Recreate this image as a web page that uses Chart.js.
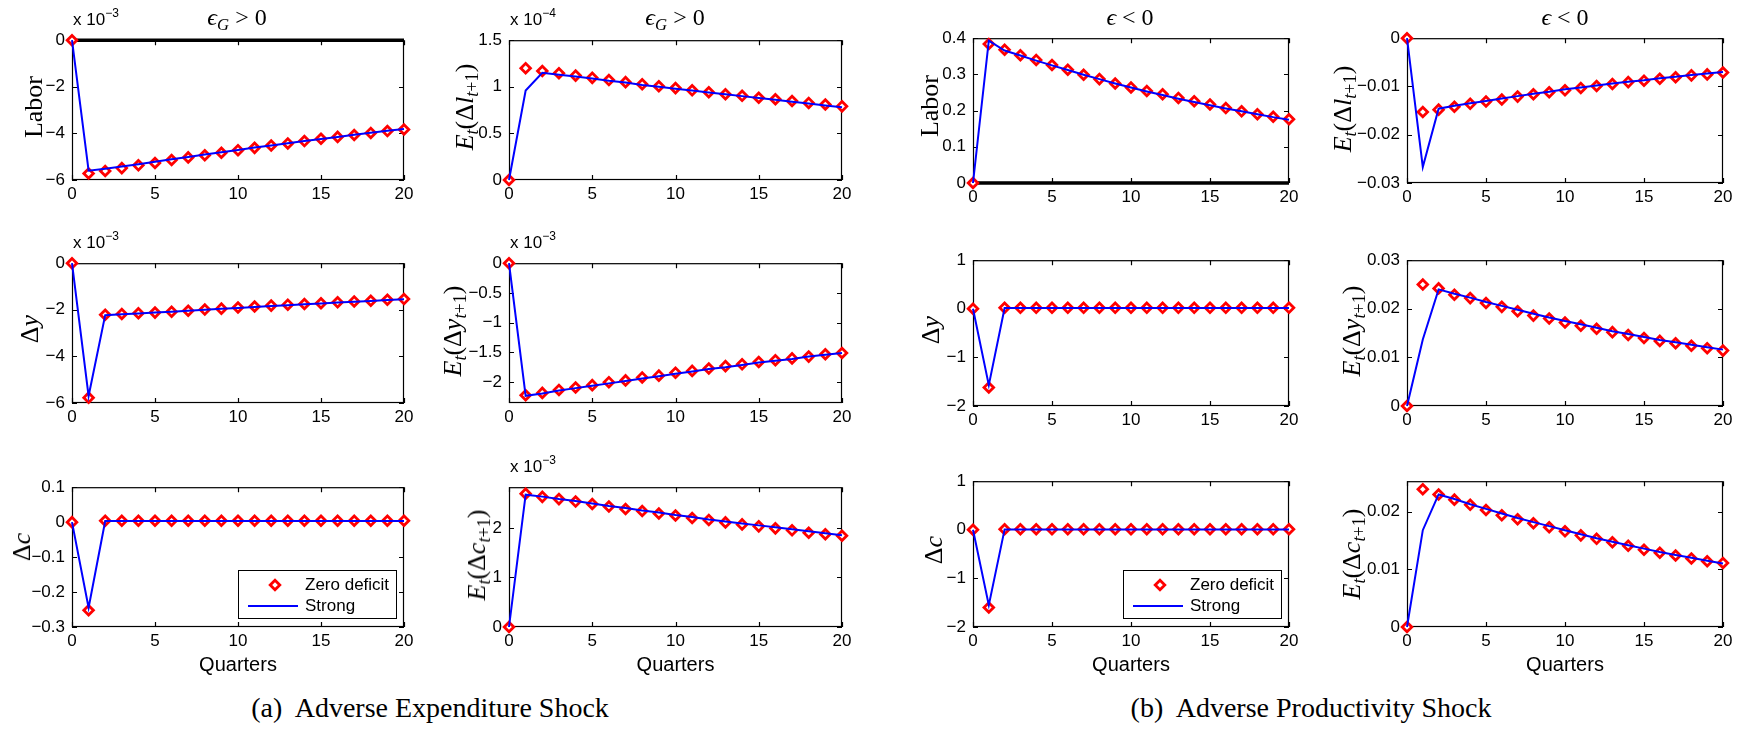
<!DOCTYPE html>
<html>
<head>
<meta charset="utf-8">
<title>Impulse responses</title>
<script src="https://cdn.jsdelivr.net/npm/chart.js@4/dist/chart.umd.min.js"></script>
<style>
  body { margin: 0; background: #fff; }
  #page { position: relative; width: 1748px; height: 729px; overflow: hidden; background: #fff; }
  #page canvas { position: absolute; }
  .txt { position: absolute; white-space: nowrap; color: #000; line-height: 1; z-index: 2; }
  .serif { font-family: "Liberation Serif", "DejaVu Serif", serif; }
  .ylab { font-size: 26px; transform: translate(-50%, -50%) rotate(-90deg); }
  .ttl { font-size: 24px; transform: translate(-50%, -50%); }
  .exp { font-family: "Liberation Sans", Arial, sans-serif; font-size: 17px; line-height: 20px; }
  .exp span { font-size: 12px; position: relative; top: -8px; }
  .sb { font-size: 70%; position: relative; top: 0.3em; }
  .cap { font-size: 28px; transform: translateX(-50%); }
</style>
</head>
<body>
<div id="page"></div>
<script>
const quarters = [0, 1, 2, 3, 4, 5, 6, 7, 8, 9, 10, 11, 12, 13, 14, 15, 16, 17, 18, 19, 20]
const quarterTicks = [0, 5, 10, 15, 20]

// (a) adverse expenditure shock, values in the units shown on each axis
const expLaborZero = [0, -5.72, -5.61, -5.49, -5.37, -5.27, -5.14, -5.03, -4.94, -4.83, -4.72, -4.62, -4.52, -4.43, -4.33, -4.23, -4.15, -4.07, -3.98, -3.90, -3.83]
const expLaborStrong = [0, -5.60, -5.52, -5.42, -5.32, -5.22, -5.11, -5.01, -4.91, -4.81, -4.71, -4.61, -4.52, -4.42, -4.33, -4.24, -4.15, -4.06, -3.97, -3.89, -3.81]
const expDlZero = [0, 1.20, 1.17, 1.145, 1.12, 1.096, 1.072, 1.05, 1.027, 1.006, 0.986, 0.962, 0.941, 0.92, 0.903, 0.882, 0.866, 0.848, 0.827, 0.81, 0.79]
const expDlStrong = [0, 0.96, 1.15, 1.13, 1.11, 1.09, 1.065, 1.045, 1.02, 1.0, 0.98, 0.96, 0.94, 0.92, 0.90, 0.88, 0.86, 0.84, 0.82, 0.80, 0.78]
const expDyZero = [0, -5.77, -2.21, -2.18, -2.15, -2.12, -2.08, -2.04, -1.99, -1.95, -1.90, -1.86, -1.82, -1.78, -1.75, -1.72, -1.68, -1.64, -1.61, -1.57, -1.54]
const expDyStrong = [0, -5.70, -2.23, -2.19, -2.16, -2.12, -2.08, -2.04, -2.00, -1.96, -1.92, -1.88, -1.84, -1.80, -1.76, -1.73, -1.69, -1.65, -1.62, -1.58, -1.55]
const expEDyZero = [0, -2.22, -2.18, -2.13, -2.09, -2.05, -2.00, -1.97, -1.92, -1.89, -1.84, -1.81, -1.77, -1.73, -1.70, -1.66, -1.63, -1.60, -1.57, -1.53, -1.51]
const expEDyStrong = [0, -2.23, -2.19, -2.14, -2.10, -2.06, -2.02, -1.98, -1.94, -1.90, -1.86, -1.82, -1.78, -1.75, -1.71, -1.67, -1.64, -1.61, -1.57, -1.54, -1.51]
const expDcZero = [0, -0.252, 0.004, 0.004, 0.004, 0.004, 0.004, 0.004, 0.004, 0.004, 0.004, 0.004, 0.004, 0.004, 0.004, 0.004, 0.004, 0.004, 0.004, 0.004, 0.004]
const expDcStrong = [0, -0.245, 0.003, 0.003, 0.003, 0.003, 0.003, 0.003, 0.003, 0.003, 0.003, 0.003, 0.003, 0.003, 0.003, 0.003, 0.003, 0.003, 0.003, 0.003, 0.003]
const expEDcZero = [0, 2.69, 2.625, 2.58, 2.53, 2.48, 2.43, 2.38, 2.34, 2.29, 2.25, 2.20, 2.16, 2.11, 2.07, 2.03, 1.99, 1.95, 1.90, 1.87, 1.84]
const expEDcStrong = [0, 2.67, 2.63, 2.58, 2.54, 2.49, 2.44, 2.40, 2.35, 2.31, 2.26, 2.22, 2.17, 2.13, 2.09, 2.05, 2.01, 1.97, 1.93, 1.89, 1.85]

// (b) adverse productivity shock
const prodLaborZero = [0, 0.384, 0.368, 0.353, 0.340, 0.326, 0.313, 0.299, 0.287, 0.275, 0.264, 0.254, 0.245, 0.235, 0.226, 0.217, 0.207, 0.198, 0.190, 0.183, 0.176]
const prodLaborStrong = [0, 0.393, 0.366, 0.352, 0.338, 0.325, 0.312, 0.299, 0.287, 0.275, 0.264, 0.253, 0.243, 0.233, 0.224, 0.215, 0.206, 0.198, 0.190, 0.182, 0.175]
const prodDlZero = [0, -0.0153, -0.0148, -0.0142, -0.0136, -0.0131, -0.0127, -0.0121, -0.0116, -0.0112, -0.0108, -0.0103, -0.0099, -0.0095, -0.0091, -0.0088, -0.0084, -0.0081, -0.0077, -0.0075, -0.0071]
const prodDlStrong = [0, -0.0267, -0.0146, -0.0140, -0.0135, -0.0130, -0.0125, -0.0120, -0.0115, -0.0111, -0.0106, -0.0102, -0.0098, -0.0094, -0.0090, -0.0087, -0.0083, -0.0080, -0.0076, -0.0073, -0.0070]
const prodDyZero = [0, -1.62, 0.02, 0.02, 0.02, 0.02, 0.02, 0.02, 0.02, 0.02, 0.02, 0.02, 0.02, 0.02, 0.02, 0.02, 0.02, 0.02, 0.02, 0.02, 0.02]
const prodDyStrong = [0, -1.57, 0.015, 0.015, 0.015, 0.015, 0.015, 0.015, 0.015, 0.015, 0.015, 0.015, 0.015, 0.015, 0.015, 0.015, 0.015, 0.015, 0.015, 0.015, 0.015]
const prodEDyZero = [0, 0.0250, 0.0242, 0.0229, 0.0222, 0.0212, 0.0204, 0.0195, 0.0186, 0.0180, 0.0172, 0.0165, 0.0159, 0.0152, 0.0146, 0.0140, 0.0134, 0.0129, 0.0124, 0.0119, 0.0114]
const prodEDyStrong = [0, 0.0137, 0.0240, 0.0231, 0.0223, 0.0214, 0.0206, 0.0198, 0.0190, 0.0182, 0.0175, 0.0168, 0.0161, 0.0154, 0.0148, 0.0142, 0.0136, 0.0131, 0.0126, 0.0121, 0.0116]
const prodDcZero = [0, -1.60, 0.012, 0.012, 0.012, 0.012, 0.012, 0.012, 0.012, 0.012, 0.012, 0.012, 0.012, 0.012, 0.012, 0.012, 0.012, 0.012, 0.012, 0.012, 0.012]
const prodDcStrong = [0, -1.55, 0.008, 0.008, 0.008, 0.008, 0.008, 0.008, 0.008, 0.008, 0.008, 0.008, 0.008, 0.008, 0.008, 0.008, 0.008, 0.008, 0.008, 0.008, 0.008]
const prodEDcZero = [0, 0.0239, 0.0230, 0.0221, 0.0212, 0.0203, 0.0194, 0.0187, 0.0180, 0.0173, 0.0166, 0.0159, 0.0153, 0.0147, 0.0141, 0.0134, 0.0129, 0.0124, 0.0119, 0.0114, 0.0111]
const prodEDcStrong = [0, 0.0168, 0.0230, 0.0222, 0.0213, 0.0205, 0.0197, 0.0189, 0.0182, 0.0175, 0.0168, 0.0161, 0.0154, 0.0148, 0.0142, 0.0136, 0.0130, 0.0125, 0.0120, 0.0115, 0.0110]

// y tick labels
const ticksExpLabor = [-6, -4, -2, 0]
const ticksExpDl = [0, 0.5, 1, 1.5]
const ticksExpDy = [-6, -4, -2, 0]
const ticksExpEDy = [-2, -1.5, -1, -0.5, 0]
const ticksExpDc = [-0.3, -0.2, -0.1, 0, 0.1]
const ticksExpEDc = [0, 1, 2]
const ticksProdLabor = [0, 0.1, 0.2, 0.3, 0.4]
const ticksProdDl = [-0.03, -0.02, -0.01, 0]
const ticksProdDy = [-2, -1, 0, 1]
const ticksProdEDy = [0, 0.01, 0.02, 0.03]
const ticksProdDc = [-2, -1, 0, 1]
const ticksProdEDc = [0, 0.01, 0.02]

const labLabor = 'Labor'
const labDl = '<i>E</i><span class="sb"><i>t</i></span>(Δ<i>l</i><span class="sb"><i>t</i>+1</span>)'
const labDy = 'Δ<i>y</i>'
const labEDy = '<i>E</i><span class="sb"><i>t</i></span>(Δ<i>y</i><span class="sb"><i>t</i>+1</span>)'
const labDc = 'Δ<i>c</i>'
const labEDc = '<i>E</i><span class="sb"><i>t</i></span>(Δ<i>c</i><span class="sb"><i>t</i>+1</span>)'
const titleG = '<i>ϵ</i><span class="sb"><i>G</i></span> &gt; 0'
const titleE = '<i>ϵ</i> &lt; 0'

const ML = 75, MT = 12, MR = 14, MB = 50, TICK = 5

const panels = [
  { l: 72, t: 35, w: 332, h: 145, zero: expLaborZero, strong: expLaborStrong, yMin: -6, yMax: 0, yTicks: ticksExpLabor, ylab: labLabor, yx: 34, yy: 107, title: titleG, tx: 237, exp: '−3', zeroRef: true },
  { l: 509, t: 35, w: 333, h: 145, zero: expDlZero, strong: expDlStrong, yMin: 0, yMax: 1.5, yTicks: ticksExpDl, ylab: labDl, yx: 465, yy: 107, title: titleG, tx: 675, exp: '−4' },
  { l: 72, t: 258, w: 332, h: 145, zero: expDyZero, strong: expDyStrong, yMin: -6, yMax: 0, yTicks: ticksExpDy, ylab: labDy, yx: 30, yy: 329, exp: '−3' },
  { l: 509, t: 258, w: 333, h: 145, zero: expEDyZero, strong: expEDyStrong, yMin: -2.35, yMax: 0, yTicks: ticksExpEDy, ylab: labEDy, yx: 453, yy: 331, exp: '−3' },
  { l: 72, t: 482, w: 332, h: 145, zero: expDcZero, strong: expDcStrong, yMin: -0.3, yMax: 0.1, yTicks: ticksExpDc, ylab: labDc, yx: 22, yy: 547, legend: true, xTitle: true },
  { l: 509, t: 482, w: 333, h: 145, zero: expEDcZero, strong: expEDcStrong, yMin: 0, yMax: 2.82, yTicks: ticksExpEDc, ylab: labEDc, yx: 477, yy: 555, exp: '−3', xTitle: true },
  { l: 973, t: 33, w: 316, h: 150, zero: prodLaborZero, strong: prodLaborStrong, yMin: 0, yMax: 0.4, yTicks: ticksProdLabor, ylab: labLabor, yx: 930, yy: 106, title: titleE, tx: 1130, zeroRef: true },
  { l: 1407, t: 33, w: 316, h: 150, zero: prodDlZero, strong: prodDlStrong, yMin: -0.03, yMax: 0, yTicks: ticksProdDl, ylab: labDl, yx: 1343, yy: 109, title: titleE, tx: 1565 },
  { l: 973, t: 255, w: 316, h: 151, zero: prodDyZero, strong: prodDyStrong, yMin: -2, yMax: 1, yTicks: ticksProdDy, ylab: labDy, yx: 931, yy: 330 },
  { l: 1407, t: 255, w: 316, h: 151, zero: prodEDyZero, strong: prodEDyStrong, yMin: 0, yMax: 0.03, yTicks: ticksProdEDy, ylab: labEDy, yx: 1352, yy: 331 },
  { l: 973, t: 476, w: 316, h: 151, zero: prodDcZero, strong: prodDcStrong, yMin: -2, yMax: 1, yTicks: ticksProdDc, ylab: labDc, yx: 934, yy: 550, legend: true, xTitle: true },
  { l: 1407, t: 476, w: 316, h: 151, zero: prodEDcZero, strong: prodEDcStrong, yMin: 0, yMax: 0.0253, yTicks: ticksProdEDc, ylab: labEDc, yx: 1352, yy: 554, xTitle: true }
]

const page = document.getElementById('page')
const sansFamily = '"Liberation Sans", Arial, sans-serif'
const tickFont = { family: sansFamily, size: 17 }

function fmt(v) {
  return String(Math.round(v * 1e6) / 1e6).replace('-', '\u2212')
}

function addText(cls, html, x, y) {
  const d = document.createElement('div')
  d.className = 'txt ' + cls
  d.innerHTML = html
  d.style.left = x + 'px'
  d.style.top = y + 'px'
  page.appendChild(d)
}

// matlab look: full box, inward ticks on all sides, zero line, legend box
const matlabAxes = {
  id: 'matlabAxes',
  beforeDatasetsDraw(chart, args, opts) {
    const { ctx, chartArea: a } = chart
    const x = chart.scales.x, y = chart.scales.y
    ctx.save()
    ctx.strokeStyle = '#000'
    ctx.lineWidth = 1.2
    ctx.strokeRect(a.left + 0.5, a.top + 0.5, a.width - 1, a.height - 1)
    ctx.beginPath()
    x.ticks.forEach(t => {
      const px = Math.round(x.getPixelForValue(t.value)) + 0.5
      ctx.moveTo(px, a.bottom); ctx.lineTo(px, a.bottom - TICK)
      ctx.moveTo(px, a.top); ctx.lineTo(px, a.top + TICK)
    })
    y.ticks.forEach(t => {
      const py = Math.round(y.getPixelForValue(t.value)) + 0.5
      ctx.moveTo(a.left, py); ctx.lineTo(a.left + TICK, py)
      ctx.moveTo(a.right, py); ctx.lineTo(a.right - TICK, py)
    })
    ctx.stroke()
    if (opts.zeroRef) {
      const py = y.getPixelForValue(0)
      ctx.lineWidth = 3.5
      ctx.beginPath()
      ctx.moveTo(a.left, py); ctx.lineTo(a.right, py)
      ctx.stroke()
    }
    ctx.restore()
  },
  afterDraw(chart, args, opts) {
    if (!opts.legend) return
    const { ctx, chartArea: a } = chart
    const strong = chart.data.datasets[0], zero = chart.data.datasets[1]
    const bw = 158, bh = 48
    const bx = Math.round(a.right - 8 - bw), by = Math.round(a.bottom - 9 - bh)
    ctx.save()
    ctx.fillStyle = '#fff'
    ctx.fillRect(bx, by, bw, bh)
    ctx.strokeStyle = '#000'
    ctx.lineWidth = 1
    ctx.strokeRect(bx + 0.5, by + 0.5, bw, bh)
    ctx.fillStyle = zero.pointBackgroundColor
    ctx.strokeStyle = zero.pointBorderColor
    ctx.lineWidth = zero.pointBorderWidth
    Chart.helpers.drawPoint(ctx, { pointStyle: zero.pointStyle, radius: zero.pointRadius, borderWidth: zero.pointBorderWidth, rotation: 0 }, bx + 37, by + 15)
    ctx.strokeStyle = strong.borderColor
    ctx.lineWidth = strong.borderWidth
    ctx.beginPath()
    ctx.moveTo(bx + 10, by + 36); ctx.lineTo(bx + 60, by + 36)
    ctx.stroke()
    ctx.fillStyle = '#000'
    ctx.font = '17px ' + sansFamily
    ctx.textBaseline = 'middle'
    ctx.fillText(zero.label, bx + 67, by + 15)
    ctx.fillText(strong.label, bx + 67, by + 36)
    ctx.restore()
  }
}

panels.forEach(p => {
  const cv = document.createElement('canvas')
  cv.width = p.w + ML + MR
  cv.height = p.h + MT + MB
  cv.style.left = (p.l - ML) + 'px'
  cv.style.top = (p.t - MT) + 'px'
  page.appendChild(cv)

  new Chart(cv, {
    type: 'line',
    data: {
      datasets: [
        {
          label: 'Strong',
          data: quarters.map((q, i) => ({ x: q, y: p.strong[i] })),
          borderColor: '#0000ff',
          borderWidth: 2,
          pointRadius: 0,
          tension: 0,
          clip: false,
          order: 0
        },
        {
          label: 'Zero deficit',
          data: quarters.map((q, i) => ({ x: q, y: p.zero[i] })),
          showLine: false,
          pointStyle: 'rectRot',
          pointRadius: 4.8,
          pointBorderWidth: 2.8,
          pointBorderColor: '#ff0000',
          pointBackgroundColor: '#ffffff',
          borderColor: '#ff0000',
          backgroundColor: '#ffffff',
          clip: false,
          order: 1
        }
      ]
    },
    options: {
      responsive: false,
      animation: false,
      events: [],
      layout: { padding: { top: MT, right: MR, left: 0, bottom: 0 } },
      plugins: {
        legend: { display: false },
        tooltip: { enabled: false },
        matlabAxes: { zeroRef: !!p.zeroRef, legend: !!p.legend }
      },
      scales: {
        x: {
          type: 'linear',
          min: 0,
          max: 20,
          afterBuildTicks: s => { s.ticks = quarterTicks.map(v => ({ value: v })) },
          afterFit: s => { s.height = MB },
          grid: { display: false, drawTicks: false },
          border: { display: false },
          ticks: { font: tickFont, color: '#000', padding: 4, maxRotation: 0, autoSkip: false, callback: fmt },
          title: { display: !!p.xTitle, text: 'Quarters', color: '#000', font: { family: sansFamily, size: 20 }, padding: { top: 0, bottom: 0 } }
        },
        y: {
          type: 'linear',
          min: p.yMin,
          max: p.yMax,
          afterBuildTicks: s => { s.ticks = p.yTicks.map(v => ({ value: v })) },
          afterFit: s => { s.width = ML },
          grid: { display: false, drawTicks: false },
          border: { display: false },
          ticks: { font: tickFont, color: '#000', padding: 7, autoSkip: false, callback: fmt }
        }
      }
    },
    plugins: [matlabAxes]
  })

  addText('serif ylab', p.ylab, p.yx, p.yy)
  if (p.title) addText('serif ttl', p.title, p.tx, 17)
  if (p.exp) addText('exp', 'x 10<span>' + p.exp + '</span>', p.l + 1, p.t - 25)
})

addText('serif cap', '(a)&nbsp; Adverse Expenditure Shock', 430, 694)
addText('serif cap', '(b)&nbsp; Adverse Productivity Shock', 1311, 694)
</script>
</body>
</html>
